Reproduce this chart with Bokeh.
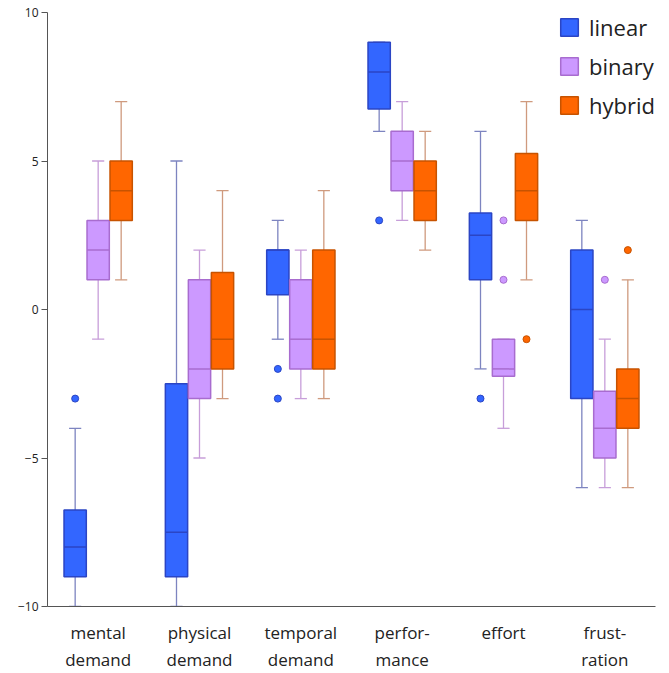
from bokeh.plotting import figure
from bokeh.models import Range1d, FixedTicker, LinearAxis, Legend, LegendItem
from bokeh.embed import file_html
from bokeh.resources import INLINE

categories = ["mental\ndemand", "physical\ndemand", "temporal\ndemand",
              "perfor-\nmance", "effort", "frust-\nration"]
series = ["linear", "binary", "hybrid"]
y_ticks = [-10, -5, 0, 5, 10]
y_tick_labels = ["\u221210", "\u22125", "0", "5", "10"]

linear_low = [-10, -10, -1, 6, -2, -6]
linear_q1 = [-9, -9, 0.5, 6.75, 1, -3]
linear_med = [-8, -7.5, 2, 8, 2.5, 0]
linear_q3 = [-6.75, -2.5, 2, 9, 3.25, 2]
linear_high = [-4, 5, 3, 9, 6, 3]
linear_out = [[-3], [], [-2, -3], [3], [-3], []]

binary_low = [-1, -5, -3, 3, -4, -6]
binary_q1 = [1, -3, -2, 4, -2.25, -5]
binary_med = [2, -2, -1, 5, -2, -4]
binary_q3 = [3, 1, 1, 6, -1, -2.75]
binary_high = [5, 2, 2, 7, -1, -1]
binary_out = [[], [], [], [], [1, 3], [1]]

hybrid_low = [1, -3, -3, 2, 1, -6]
hybrid_q1 = [3, -2, -2, 3, 3, -4]
hybrid_med = [4, -1, -1, 4, 4, -3]
hybrid_q3 = [5, 1.25, 2, 5, 5.25, -2]
hybrid_high = [7, 4, 4, 6, 7, 1]
hybrid_out = [[], [], [], [], [-1], [2]]

stats = {
    "linear": (linear_low, linear_q1, linear_med, linear_q3, linear_high, linear_out),
    "binary": (binary_low, binary_q1, binary_med, binary_q3, binary_high, binary_out),
    "hybrid": (hybrid_low, hybrid_q1, hybrid_med, hybrid_q3, hybrid_high, hybrid_out),
}

fills = ["#3366ff", "#cc99ff", "#ff6600"]
outlines = ["#2b45c4", "#a86ccf", "#c75300"]
whisk = ["#7d84c0", "#c79ed9", "#cf9a7e"]

FONT = "Open Sans"

p = figure(width=663, height=673, output_backend="svg", toolbar_location=None,
           x_range=Range1d(0, 6), y_range=Range1d(-10, 10),
           min_border_left=47, min_border_right=8, min_border_top=12, min_border_bottom=67,
           x_axis_location=None)
p.outline_line_color = None
p.xgrid.visible = False
p.ygrid.visible = False

centers = [k + 0.5 for k in range(len(categories))]
offset = 0.227
bw = 0.22
cap = 0.06

items = []
for i, s in enumerate(series):
    low, q1, med, q3, high, outs = stats[s]
    xs = [c + (i - 1) * offset for c in centers]
    # whiskers
    p.segment(xs, q3, xs, high, line_color=whisk[i], line_width=1.3)
    p.segment(xs, q1, xs, low, line_color=whisk[i], line_width=1.3)
    p.segment([x - cap for x in xs], high, [x + cap for x in xs], high, line_color=whisk[i], line_width=1.3)
    p.segment([x - cap for x in xs], low, [x + cap for x in xs], low, line_color=whisk[i], line_width=1.3)
    # boxes
    r = p.vbar(x=xs, width=bw, bottom=q1, top=q3, fill_color=fills[i],
               line_color=outlines[i], line_width=1.5)
    items.append(LegendItem(label=s, renderers=[r]))
    # medians
    p.segment([x - bw / 2 for x in xs], med, [x + bw / 2 for x in xs], med,
              line_color=outlines[i], line_width=1.5)
    # outliers
    ox, oy = [], []
    for x, o in zip(xs, outs):
        for v in o:
            ox.append(x)
            oy.append(v)
    if ox:
        p.scatter(ox, oy, size=7, fill_color=fills[i], line_color=outlines[i], line_width=1)

# y axis
p.yaxis.ticker = FixedTicker(ticks=y_ticks)
p.yaxis.major_label_overrides = {t: l for t, l in zip(y_ticks, y_tick_labels)}
p.yaxis.minor_tick_line_color = None
p.yaxis.major_tick_out = 6
p.yaxis.major_tick_in = 0
p.yaxis.axis_line_color = "#555555"
p.yaxis.major_tick_line_color = "#555555"
p.yaxis.major_label_text_font = FONT
p.yaxis.major_label_text_font_size = "12px"
p.yaxis.major_label_text_color = "#222222"
p.yaxis.major_label_standoff = 3

line1 = [c.split("\n")[0] for c in categories]
line2 = [c.split("\n")[1] if "\n" in c else "" for c in categories]

ax1 = LinearAxis(ticker=FixedTicker(ticks=centers),
                 major_label_overrides={c: l for c, l in zip(centers, line1)})
ax2 = LinearAxis(ticker=FixedTicker(ticks=centers),
                 major_label_overrides={c: l for c, l in zip(centers, line2)})
for ax in (ax1, ax2):
    ax.major_tick_line_color = None
    ax.minor_tick_line_color = None
    ax.major_tick_out = 0
    ax.major_tick_in = 0
    ax.major_label_text_font = FONT
    ax.major_label_text_font_size = "17px"
    ax.major_label_text_color = "#222222"
ax1.axis_line_color = "#555555"
ax1.major_label_standoff = 14
ax2.axis_line_color = None
ax2.major_label_standoff = 1
p.add_layout(ax1, "below")
p.add_layout(ax2, "below")

legend = Legend(items=items, location="top_right")
legend.border_line_color = None
legend.background_fill_alpha = 0
legend.label_text_font = FONT
legend.label_text_font_size = "22px"
legend.label_text_color = "#222222"
legend.glyph_width = 22
legend.glyph_height = 22
legend.label_standoff = 9
legend.spacing = 9
legend.padding = 2
legend.margin = 0
p.add_layout(legend)

open("out.html", "w").write(file_html(p, INLINE))
